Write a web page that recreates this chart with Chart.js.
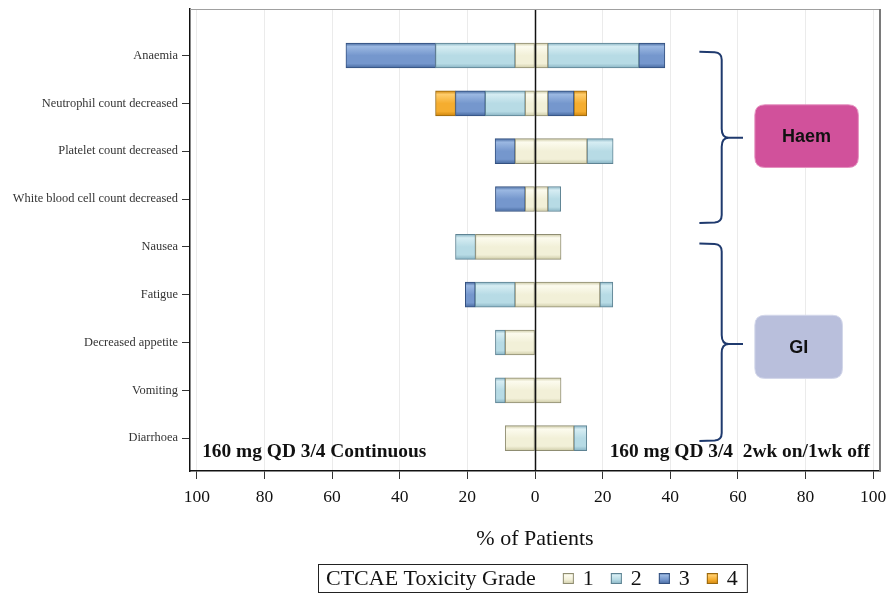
<!DOCTYPE html>
<html>
<head>
<meta charset="utf-8">
<script src="https://cdn.jsdelivr.net/npm/chart.js@4.4.1/dist/chart.umd.min.js"></script>
<style>
  html, body { margin: 0; padding: 0; background: #fff; }
  canvas { display: block; }
</style>
</head>
<body>
<canvas id="chart" width="889" height="596"></canvas>
<script>
// Adverse events, top to bottom
const categories = [
  'Anaemia', 'Neutrophil count decreased', 'Platelet count decreased',
  'White blood cell count decreased', 'Nausea', 'Fatigue',
  'Decreased appetite', 'Vomiting', 'Diarrhoea'
];
const grades = ['1', '2', '3', '4'];

// 160 mg QD 3/4 Continuous: % of patients by CTCAE grade (drawn to the left)
const contGrade1 = [5.9, 2.9, 5.9, 2.9, 17.6, 5.9, 8.8, 8.8, 8.8];
const contGrade2 = [23.5, 11.8, 0, 0, 5.9, 11.8, 2.9, 2.9, 0];
const contGrade3 = [26.5, 8.8, 5.9, 8.8, 0, 2.9, 0, 0, 0];
const contGrade4 = [0, 5.9, 0, 0, 0, 0, 0, 0, 0];

// 160 mg QD 3/4 2wk on/1wk off: % of patients by CTCAE grade (drawn to the right)
const intGrade1 = [3.8, 3.8, 15.4, 3.8, 7.7, 19.2, 0, 7.7, 11.5];
const intGrade2 = [26.9, 0, 7.7, 3.8, 0, 3.8, 0, 0, 3.8];
const intGrade3 = [7.7, 7.7, 0, 0, 0, 0, 0, 0, 0];
const intGrade4 = [0, 3.8, 0, 0, 0, 0, 0, 0, 0];

const xTickValues = [-100, -80, -60, -40, -20, 0, 20, 40, 60, 80, 100];
const armLabels = ['160 mg QD 3/4 Continuous', '160 mg QD 3/4  2wk on/1wk off'];
const groupLabels = ['Haem', 'GI'];

// ---- styling ----
const SERIF = "'Liberation Serif', 'Times New Roman', serif";
const SANS = "'Liberation Sans', Arial, sans-serif";
const gradeStyle = [
  { light: '#FCFBEE', base: '#F2F0D8', dark: '#CFCCA8', border: '#8F8D72' },
  { light: '#D6EDF3', base: '#B7DBE5', dark: '#88B3C3', border: '#5E8393' },
  { light: '#9BB8E2', base: '#7597CD', dark: '#46699F', border: '#33507F' },
  { light: '#FFCD6C', base: '#F5AD2F', dark: '#CF850C', border: '#986810' }
];

// vertical sheen across each bar
function barFill(ctx, st) {
  const chart = ctx.chart;
  if (ctx.type !== 'data' || !chart.scales || !chart.scales.y) return st.base;
  const yc = chart.scales.y.getPixelForValue(ctx.dataIndex);
  if (!Number.isFinite(yc)) return st.base;
  const g = chart.ctx.createLinearGradient(0, yc - 12.5, 0, yc + 12.5);
  g.addColorStop(0, st.dark);
  g.addColorStop(0.14, st.light);
  g.addColorStop(0.5, st.base);
  g.addColorStop(0.82, st.base);
  g.addColorStop(1, st.dark);
  return g;
}

function makeSet(values, gradeIdx, sign) {
  const st = gradeStyle[gradeIdx];
  return {
    label: grades[gradeIdx],
    data: values.map((v, i) => ({ x: v === 0 ? null : sign * v, y: i })),
    backgroundColor: (c) => barFill(c, st),
    borderColor: st.border,
    borderWidth: 1,
    borderSkipped: false,
    barThickness: 25
  };
}

const datasets = [
  makeSet(contGrade1, 0, -1), makeSet(contGrade2, 1, -1),
  makeSet(contGrade3, 2, -1), makeSet(contGrade4, 3, -1),
  makeSet(intGrade1, 0, 1), makeSet(intGrade2, 1, 1),
  makeSet(intGrade3, 2, 1), makeSet(intGrade4, 3, 1)
];

function roundRect(ctx, x, y, w, h, r) {
  ctx.beginPath();
  ctx.moveTo(x + r, y);
  ctx.lineTo(x + w - r, y);
  ctx.quadraticCurveTo(x + w, y, x + w, y + r);
  ctx.lineTo(x + w, y + h - r);
  ctx.quadraticCurveTo(x + w, y + h, x + w - r, y + h);
  ctx.lineTo(x + r, y + h);
  ctx.quadraticCurveTo(x, y + h, x, y + h - r);
  ctx.lineTo(x, y + r);
  ctx.quadraticCurveTo(x, y, x + r, y);
  ctx.closePath();
}

function brace(ctx, x0, xv, xp, yTop, yMid, yBot) {
  const r = 7, rm = 9;
  ctx.beginPath();
  ctx.moveTo(x0, yTop);
  ctx.lineTo(xv - r, yTop + 0.5);
  ctx.quadraticCurveTo(xv, yTop + 1, xv, yTop + r + 1);
  ctx.lineTo(xv, yMid - rm);
  ctx.quadraticCurveTo(xv, yMid, xv + rm - 2, yMid);
  ctx.lineTo(xp, yMid);
  ctx.moveTo(xv + rm - 2, yMid);
  ctx.quadraticCurveTo(xv, yMid, xv, yMid + rm);
  ctx.lineTo(xv, yBot - r - 1);
  ctx.quadraticCurveTo(xv, yBot - 1, xv - r, yBot - 0.5);
  ctx.lineTo(x0, yBot);
  ctx.stroke();
}

const overlay = {
  id: 'overlay',
  afterDatasetsDraw(chart) {
    const { ctx, chartArea: a, scales: { x, y } } = chart;
    ctx.save();
    // zero reference line over the bars
    const x0 = Math.round(x.getPixelForValue(0)) + 0.5;
    ctx.strokeStyle = '#111';
    ctx.lineWidth = 1.5;
    ctx.beginPath();
    ctx.moveTo(x0, a.top);
    ctx.lineTo(x0, a.bottom);
    ctx.stroke();
    // frame: top and right edges
    ctx.strokeStyle = '#a0a0a0';
    ctx.lineWidth = 1;
    ctx.beginPath();
    ctx.moveTo(a.left, a.top + 0.5);
    ctx.lineTo(a.right, a.top + 0.5);
    ctx.stroke();
    ctx.strokeStyle = '#7a7a7a';
    ctx.lineWidth = 2;
    ctx.beginPath();
    ctx.moveTo(a.right, a.top);
    ctx.lineTo(a.right, a.bottom);
    ctx.stroke();

    // arm labels
    ctx.fillStyle = '#111';
    ctx.font = 'bold 19.4px ' + SERIF;
    ctx.textBaseline = 'middle';
    ctx.textAlign = 'left';
    ctx.fillText(armLabels[0], x.getPixelForValue(-98.4), 452);
    ctx.textAlign = 'right';
    ctx.fillText(armLabels[1], x.getPixelForValue(99.0), 452);

    // group braces
    ctx.strokeStyle = '#1F3A6E';
    ctx.lineWidth = 2;
    const bx0 = x.getPixelForValue(48.6), bxv = x.getPixelForValue(55.2), bxp = x.getPixelForValue(61.5);
    brace(ctx, bx0, bxv, bxp, y.getPixelForValue(-0.08), y.getPixelForValue(1.72), y.getPixelForValue(3.5));
    brace(ctx, bx0, bxv, bxp, y.getPixelForValue(3.93), y.getPixelForValue(6.03), y.getPixelForValue(8.06));

    // group boxes
    const boxes = [
      { l: 65, r: 95.6, t: 1.03, b: 2.34, fill: '#D1519B', edge: '#E592C0' },
      { l: 65, r: 90.9, t: 5.43, b: 6.75, fill: '#B9BFDC', edge: '#D3D7EA' }
    ];
    boxes.forEach((bx, i) => {
      const L = x.getPixelForValue(bx.l), R = x.getPixelForValue(bx.r);
      const T = y.getPixelForValue(bx.t), B = y.getPixelForValue(bx.b);
      roundRect(ctx, L, T, R - L, B - T, 10);
      ctx.fillStyle = bx.fill;
      ctx.fill();
      ctx.strokeStyle = bx.edge;
      ctx.lineWidth = 1;
      ctx.stroke();
      ctx.fillStyle = '#111';
      ctx.font = 'bold 18px ' + SANS;
      ctx.textAlign = 'center';
      ctx.textBaseline = 'middle';
      ctx.fillText(groupLabels[i], (L + R) / 2, (T + B) / 2 + 1);
    });
    ctx.restore();
  },
  afterDraw(chart) {
    const ctx = chart.ctx;
    ctx.save();
    // legend
    const lx = 318, ly = 564, lh = 28;
    ctx.font = '22px ' + SERIF;
    const title = 'CTCAE Toxicity Grade';
    const tw = ctx.measureText(title).width;
    let cx = lx + 8 + tw + 27;
    const items = [];
    grades.forEach((g, i) => {
      items.push({ x: cx, g, st: gradeStyle[i] });
      cx += 11 + 9 + ctx.measureText(g).width + 17;
    });
    const lw = cx - 17 + 9 - lx;
    ctx.fillStyle = '#fff';
    ctx.fillRect(lx, ly, lw, lh);
    ctx.strokeStyle = '#222';
    ctx.lineWidth = 1;
    ctx.strokeRect(lx + 0.5, ly + 0.5, lw, lh);
    ctx.fillStyle = '#111';
    ctx.textBaseline = 'middle';
    ctx.textAlign = 'left';
    ctx.fillText(title, lx + 8, ly + lh / 2 + 1);
    items.forEach(it => {
      const sy = ly + lh / 2 - 5;
      const gr = ctx.createLinearGradient(0, sy, 0, sy + 11);
      gr.addColorStop(0, it.st.dark);
      gr.addColorStop(0.2, it.st.light);
      gr.addColorStop(0.6, it.st.base);
      gr.addColorStop(1, it.st.dark);
      ctx.fillStyle = gr;
      ctx.fillRect(it.x, sy, 11, 11);
      ctx.strokeStyle = it.st.border;
      ctx.strokeRect(it.x + 0.5, sy + 0.5, 10, 10);
      ctx.fillStyle = '#111';
      ctx.fillText(it.g, it.x + 11 + 9, ly + lh / 2 + 1);
    });
    ctx.restore();
  }
};

new Chart(document.getElementById('chart'), {
  type: 'bar',
  data: { datasets },
  plugins: [overlay],
  options: {
    indexAxis: 'y',
    responsive: false,
    animation: false,
    layout: { padding: { top: 9, right: 9, bottom: 0, left: 0 } },
    plugins: { legend: { display: false }, tooltip: { enabled: false } },
    scales: {
      x: {
        type: 'linear',
        stacked: true,
        min: -102,
        max: 102,
        afterBuildTicks: (s) => { s.ticks = xTickValues.map(v => ({ value: v })); },
        afterFit: (s) => { s.height = 125; s.paddingLeft = 0; s.paddingRight = 0; },
        grid: {
          color: (c) => (c.tick && c.tick.value === 0) ? 'rgba(0,0,0,0)' : '#ebebeb',
          lineWidth: 1,
          drawTicks: true,
          tickLength: 8,
          tickColor: '#333'
        },
        border: { color: '#111', width: 1.5 },
        ticks: {
          callback: (v) => Math.abs(v),
          font: { family: SERIF, size: 17.5 },
          color: '#111',
          padding: 8,
          maxRotation: 0,
          autoSkip: false
        },
        title: {
          display: true,
          text: '% of Patients',
          font: { family: SERIF, size: 22 },
          color: '#111',
          padding: { top: 0, bottom: 44 }
        }
      },
      y: {
        type: 'linear',
        stacked: true,
        reverse: true,
        offset: false,
        min: -0.973,
        max: 8.686,
        afterBuildTicks: (s) => { s.ticks = categories.map((_, i) => ({ value: i })); },
        afterFit: (s) => { s.width = 190; s.paddingTop = 0; s.paddingBottom = 0; },
        grid: {
          offset: false,
          drawOnChartArea: false,
          drawTicks: true,
          tickLength: 8,
          tickColor: '#333'
        },
        border: { color: '#111', width: 1.5 },
        ticks: {
          callback: (v) => categories[v],
          font: { family: SERIF, size: 12.4 },
          color: '#333',
          padding: 4,
          autoSkip: false
        }
      }
    }
  }
});
</script>
</body>
</html>
